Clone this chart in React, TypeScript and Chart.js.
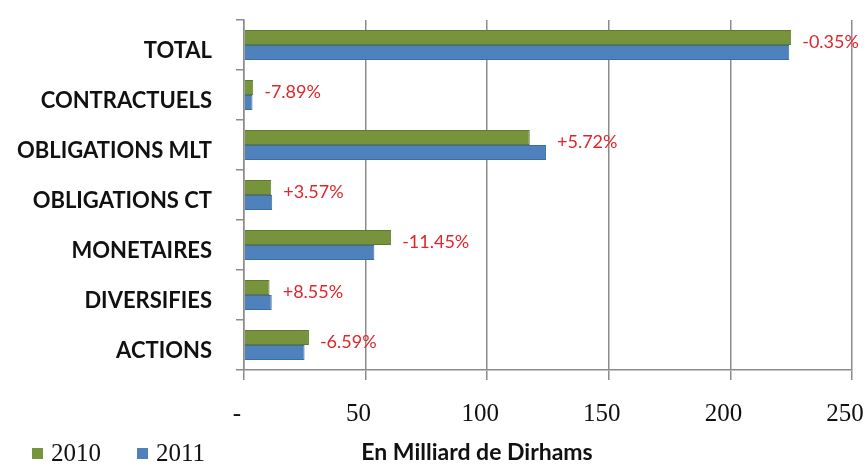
import React, { useEffect, useRef } from 'react';
import { Chart, registerables } from 'chart.js';

Chart.register(...registerables);

const categories = [
  'TOTAL',
  'CONTRACTUELS',
  'OBLIGATIONS MLT',
  'OBLIGATIONS CT',
  'MONETAIRES',
  'DIVERSIFIES',
  'ACTIONS',
];
const seriesNames = ['2010', '2011'];
const values2010 = [225.0, 3.8, 117.5, 11.2, 60.5, 10.5, 26.7];
const values2011 = [224.2, 3.5, 124.2, 11.6, 53.6, 11.4, 24.9];
const changeLabels = ['-0.35%', '-7.89%', '+5.72%', '+3.57%', '-11.45%', '+8.55%', '-6.59%'];
const xMin = 0;
const xMax = 250;
const xStep = 50;
const xTitle = 'En Milliard de Dirhams';

const GREEN = '#77933C';
const BLUE = '#4F81BD';
const GRID = '#8c8c8c';

const changeLabelPlugin = {
  id: 'changeLabels',
  afterDatasetsDraw(chart: any) {
    const ctx = chart.ctx;
    const m0 = chart.getDatasetMeta(0);
    const m1 = chart.getDatasetMeta(1);
    ctx.save();
    ctx.font = '18px Lato';
    ctx.fillStyle = '#e0262c';
    ctx.textAlign = 'left';
    ctx.textBaseline = 'middle';
    changeLabels.forEach((txt, i) => {
      const a = m0.data[i];
      const b = m1.data[i];
      if (!a || !b) return;
      const x = Math.max(a.x, b.x) + 11;
      const y = (a.y + b.y) / 2 - 3;
      ctx.fillText(txt, x, y);
    });
    ctx.restore();
  },
};

const legendTitlePlugin = {
  id: 'legendTitle',
  afterDraw(chart: any) {
    const ctx = chart.ctx;
    ctx.save();
    ctx.font = 'bold 23px Lato';
    ctx.fillStyle = '#111';
    ctx.textAlign = 'center';
    ctx.textBaseline = 'middle';
    ctx.fillText(xTitle, 477, 453);
    const items = [
      { x: 32, tx: 51 },
      { x: 137, tx: 156 },
    ];
    ctx.font = '25px "Liberation Serif"';
    ctx.textAlign = 'left';
    chart.data.datasets.forEach((ds: any, i: number) => {
      const it = items[i];
      ctx.fillStyle = ds.backgroundColor;
      ctx.fillRect(it.x, 448, 11, 11);
      ctx.fillStyle = '#111';
      ctx.fillText(ds.label, it.tx, 454);
    });
    ctx.restore();
  },
};

export default function App() {
  const ref = useRef<HTMLCanvasElement | null>(null);

  useEffect(() => {
    document.body.style.margin = '0';
    const canvas = ref.current;
    if (!canvas) return;
    const chart = new Chart(canvas, {
      type: 'bar',
      data: {
        labels: categories,
        datasets: [
          {
            label: seriesNames[0],
            data: values2010,
            backgroundColor: GREEN,
            borderColor: '#5f7a2c',
            borderWidth: 1,
            categoryPercentage: 0.6,
            barPercentage: 1.0,
          },
          {
            label: seriesNames[1],
            data: values2011,
            backgroundColor: BLUE,
            borderColor: '#3d6da6',
            borderWidth: 1,
            categoryPercentage: 0.6,
            barPercentage: 1.0,
          },
        ],
      },
      options: {
        indexAxis: 'y',
        responsive: false,
        animation: false,
        layout: { padding: { top: 20, right: 15, left: 0, bottom: 0 } },
        plugins: {
          legend: { display: false },
          tooltip: { enabled: false },
          title: { display: false },
        },
        scales: {
          x: {
            min: xMin,
            max: xMax,
            afterFit(scale: any) {
              scale.height = 101;
              scale.paddingLeft = 0;
              scale.paddingRight = 0;
            },
            ticks: {
              stepSize: xStep,
              callback: (v: any) => (Number(v) === 0 ? '-' : String(v)),
              font: { family: '"Liberation Serif"', size: 25 },
              color: '#111',
              padding: 19,
              labelOffset: -7,
              maxRotation: 0,
            },
            grid: {
              color: GRID,
              lineWidth: 1.5,
              tickLength: 10,
            },
            border: { color: GRID, width: 1.5 },
          },
          y: {
            afterFit(scale: any) {
              scale.width = 244;
              scale.paddingTop = 0;
              scale.paddingBottom = 0;
            },
            ticks: {
              font: { family: 'Lato', size: 22, weight: 'bold' },
              color: '#111',
              padding: 24,
              labelOffset: 6,
            },
            grid: {
              drawOnChartArea: false,
              offset: true,
              tickLength: 8,
              color: GRID,
              lineWidth: 1.5,
            },
            border: { color: GRID, width: 1.5 },
          },
        },
      },
      plugins: [changeLabelPlugin, legendTitlePlugin],
    });
    return () => chart.destroy();
  }, []);

  return (
    <div style={{ width: 867, height: 471, background: '#fff' }}>
      <canvas ref={ref} width={867} height={471} />
    </div>
  );
}
